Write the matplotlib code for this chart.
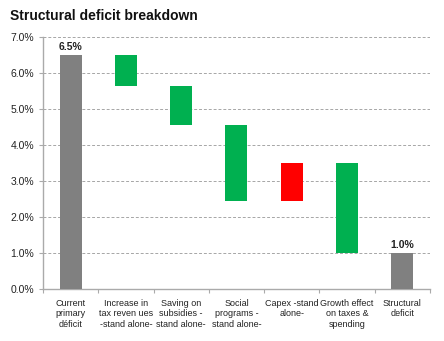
import numpy as np
import matplotlib.pyplot as plt
from matplotlib.ticker import FuncFormatter

categories = ["Current\nprimary\ndéficit", "Increase in\ntax reven ues\n-stand alone-",
              "Saving on\nsubsidies -\nstand alone-", "Social\nprograms -\nstand alone-",
              "Capex -stand\nalone-", "Growth effect\non taxes &\nspending", "Structural\ndeficit"]
bottoms = [0.0, 5.65, 4.55, 2.45, 2.45, 1.0, 0.0]
tops = [6.5, 6.5, 5.65, 4.55, 3.5, 3.5, 1.0]
colors = ["#808080", "#00B050", "#00B050", "#00B050", "#FF0000", "#00B050", "#808080"]
labels = {0: "6.5%", 6: "1.0%"}

plt.rcParams['font.family'] = ['Liberation Sans', 'DejaVu Sans']

fig = plt.figure(figsize=(4.44, 3.41), dpi=100)
ax = fig.add_axes([0.097, 0.1525, 0.871, 0.739])

x = np.arange(len(categories))
heights = np.array(tops) - np.array(bottoms)
ax.bar(x, heights, bottom=bottoms, width=0.4, color=colors, zorder=3)

for i, txt in labels.items():
    ax.text(x[i], tops[i] + 0.08, txt, ha="center", va="bottom", fontsize=7.5,
            fontweight="bold", color="#222222")

ax.set_ylim(0, 7)
ax.set_xlim(-0.5, len(categories) - 0.5)
ax.set_yticks(np.arange(0, 7.01, 1))
ax.yaxis.set_major_formatter(FuncFormatter(lambda v, p: f"{v:.1f}%"))
ax.grid(axis="y", linestyle=(0, (3, 2)), color="#a6a6a6", linewidth=0.7, zorder=0)

ax.set_xticks(np.arange(len(categories) + 1) - 0.5)
ax.set_xticklabels([])
ax.set_xticks(x, minor=True)
ax.set_xticklabels(categories, minor=True, fontsize=6.5, color="#222222", linespacing=1.2)
ax.tick_params(axis="x", which="minor", length=0, pad=7)
ax.tick_params(axis="x", which="major", length=3, color="#aaaaaa", direction="out")
ax.tick_params(axis="y", length=3, color="#aaaaaa", labelsize=7.5, labelcolor="#222222")

for s in ["top", "right"]:
    ax.spines[s].set_visible(False)
for s in ["left", "bottom"]:
    ax.spines[s].set_color("#aaaaaa")
    ax.spines[s].set_linewidth(1.0)

fig.text(0.022, 0.952, "Structural deficit breakdown", fontsize=10, fontweight="bold",
         ha="left", va="center", color="#111111")

fig.savefig("out.png", dpi=100)
